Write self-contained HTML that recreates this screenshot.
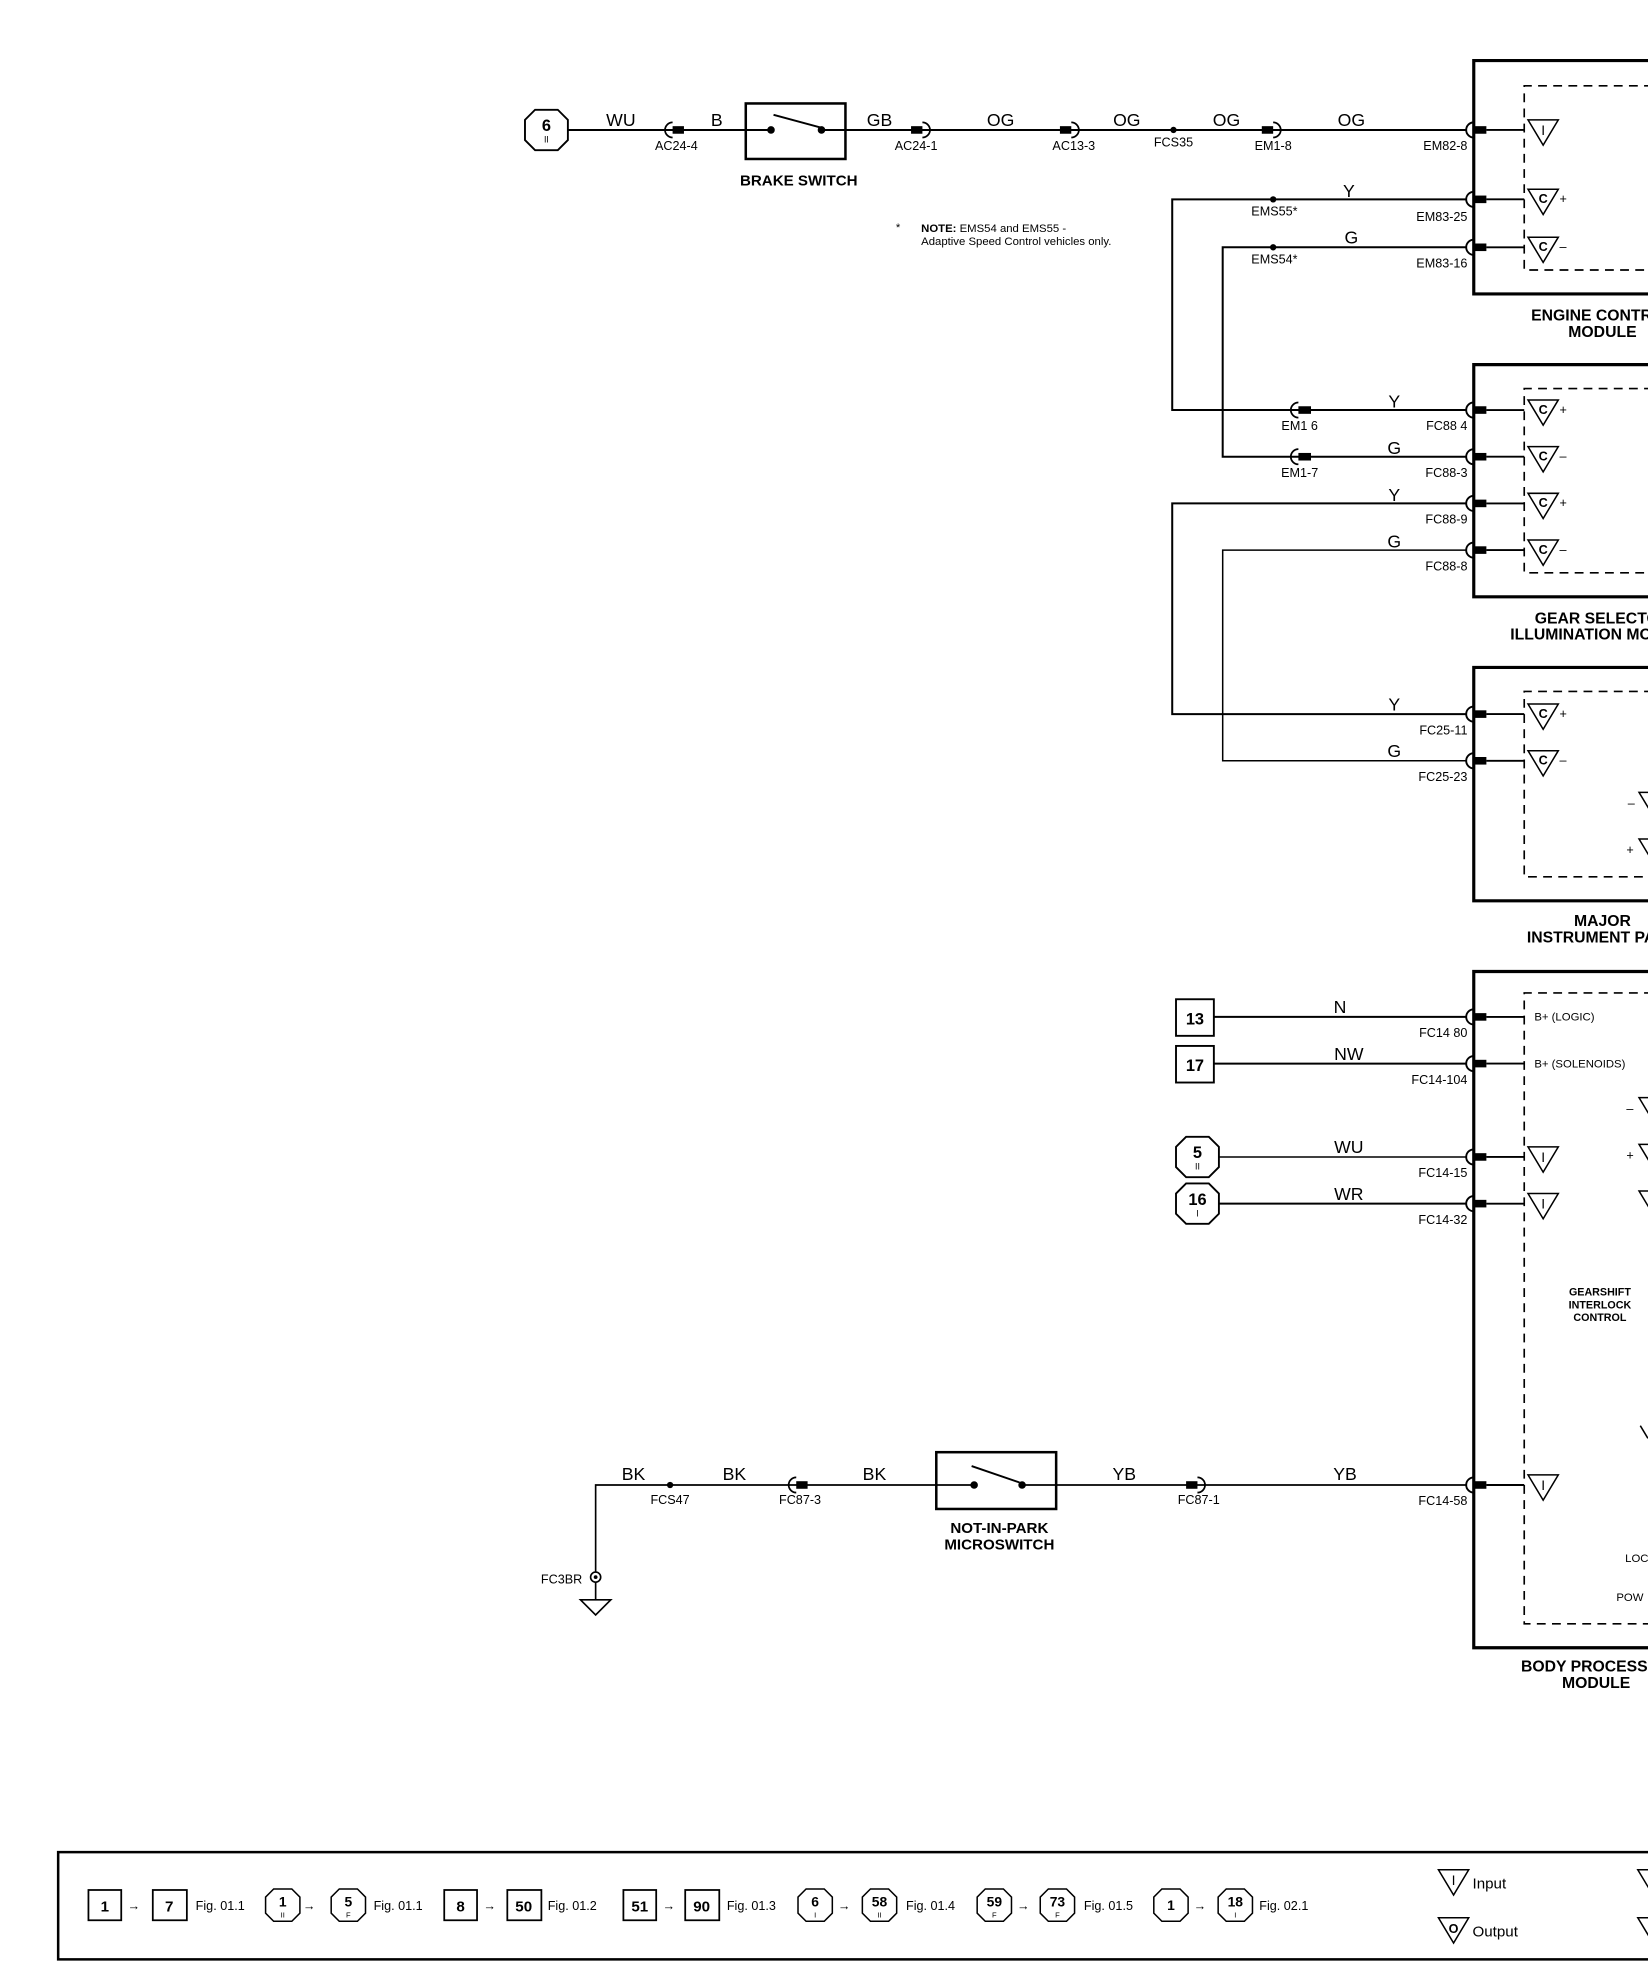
<!DOCTYPE html>
<html><head><meta charset="utf-8">
<style>
html,body{margin:0;padding:0;background:#fff;}
svg{display:block;}
text{font-family:"Liberation Sans",Arial,sans-serif;fill:#000;}
.w{font-size:14px;}
.p{font-size:10px;}
.b{font-weight:bold;}
</style></head>
<body>
<svg width="1648" height="1972" viewBox="0 0 1306 1563" xmlns="http://www.w3.org/2000/svg">
<defs>
<g id="tri"><polygon points="0,0 24,0 12,20" fill="none" stroke="#000" stroke-width="1.2"/></g>
<g id="oct"><polygon points="-9,-16 9,-16 17,-8 17,8 9,16 -9,16 -17,8 -17,-8" fill="#fff" stroke="#000" stroke-width="1.5"/></g>
<g id="pin"><path d="M1168,-6 A6,6 0 0 0 1168,6" fill="none" stroke="#000" stroke-width="1.5"/><rect x="1168" y="-3" width="10" height="6" fill="#000"/><line x1="1178" y1="0" x2="1208" y2="0" stroke="#000" stroke-width="1.5"/></g>
</defs>

<g stroke="#000" fill="none">
<!-- module boxes -->
<path d="M1310,48 H1168 V233 H1310" stroke-width="2.5"/>
<path d="M1310,68 H1208 V214 H1310" stroke-width="1.3" stroke-dasharray="7,5"/>
<path d="M1310,289 H1168 V473 H1310" stroke-width="2.5"/>
<path d="M1310,308 H1208 V454 H1310" stroke-width="1.3" stroke-dasharray="7,5"/>
<path d="M1310,529 H1168 V714 H1310" stroke-width="2.5"/>
<path d="M1310,548 H1208 V695 H1310" stroke-width="1.3" stroke-dasharray="7,5"/>
<path d="M1310,770 H1168 V1306 H1310" stroke-width="2.5"/>
<path d="M1310,787 H1208 V1287 H1310" stroke-width="1.3" stroke-dasharray="7,5"/>

<!-- wires -->
<line x1="450" y1="103" x2="1162" y2="103" stroke-width="1.6"/>
<path d="M1162,158 H929 V325 H1162" stroke-width="1.6"/>
<path d="M1162,196 H969 V362 H1162" stroke-width="1.6"/>
<path d="M1162,399 H929 V566 H1162" stroke-width="1.6"/>
<path d="M1162,436 H969 V603 H1162" stroke-width="1.2"/>
<line x1="962" y1="806" x2="1162" y2="806" stroke-width="1.6"/>
<line x1="962" y1="843" x2="1162" y2="843" stroke-width="1.6"/>
<line x1="966" y1="917" x2="1162" y2="917" stroke-width="1.2"/>
<line x1="966" y1="954" x2="1162" y2="954" stroke-width="1.6"/>
<path d="M1162,1177 H472 V1268" stroke-width="1.3"/>
</g>

<!-- module pins -->
<use href="#pin" y="103"/><use href="#pin" y="158"/><use href="#pin" y="196"/>
<use href="#pin" y="325"/><use href="#pin" y="362"/><use href="#pin" y="399"/><use href="#pin" y="436"/>
<use href="#pin" y="566"/><use href="#pin" y="603"/>
<use href="#pin" y="806"/><use href="#pin" y="843"/><use href="#pin" y="917"/><use href="#pin" y="954"/><use href="#pin" y="1177"/>

<!-- inline connectors -->
<g fill="#000" stroke="#000" stroke-width="1.4">
<path d="M533,97 A6,6 0 0 0 533,109" fill="none"/><rect x="533" y="100" width="9" height="6" stroke="none"/>
<rect x="722" y="100" width="9" height="6" stroke="none"/><path d="M731,97 A6,6 0 0 1 731,109" fill="none"/>
<rect x="840" y="100" width="9" height="6" stroke="none"/><path d="M849,97 A6,6 0 0 1 849,109" fill="none"/>
<rect x="1000" y="100" width="9" height="6" stroke="none"/><path d="M1009,97 A6,6 0 0 1 1009,109" fill="none"/>
<path d="M1029,319 A6,6 0 0 0 1029,331" fill="none"/><rect x="1029" y="322" width="10" height="6" stroke="none"/>
<path d="M1029,356 A6,6 0 0 0 1029,368" fill="none"/><rect x="1029" y="359" width="10" height="6" stroke="none"/>
<path d="M631,1171 A6,6 0 0 0 631,1183" fill="none"/><rect x="631" y="1174" width="9" height="6" stroke="none"/>
<rect x="940" y="1174" width="9" height="6" stroke="none"/><path d="M949,1171 A6,6 0 0 1 949,1183" fill="none"/>
<circle cx="930" cy="103" r="2.5" stroke="none"/>
<circle cx="1009" cy="158" r="2.5" stroke="none"/>
<circle cx="1009" cy="196" r="2.5" stroke="none"/>
<circle cx="531" cy="1177" r="2.5" stroke="none"/>
</g>

<!-- brake switch -->
<rect x="591" y="82" width="79" height="44" fill="#fff" stroke="#000" stroke-width="2"/>
<line x1="591" y1="103" x2="611" y2="103" stroke="#000" stroke-width="1.6"/>
<line x1="651" y1="103" x2="670" y2="103" stroke="#000" stroke-width="1.6"/>
<circle cx="611" cy="103" r="3" fill="#000"/><circle cx="651" cy="103" r="3" fill="#000"/>
<line x1="613" y1="91" x2="650" y2="101" stroke="#000" stroke-width="1.5"/>
<text x="633" y="147" class="b" font-size="12" text-anchor="middle">BRAKE SWITCH</text>

<!-- not in park switch -->
<rect x="742" y="1151" width="95" height="45" fill="#fff" stroke="#000" stroke-width="2"/>
<line x1="742" y1="1177" x2="772" y2="1177" stroke="#000" stroke-width="1.3"/>
<line x1="810" y1="1177" x2="837" y2="1177" stroke="#000" stroke-width="1.3"/>
<circle cx="772" cy="1177" r="3" fill="#000"/><circle cx="810" cy="1177" r="3" fill="#000"/>
<line x1="770" y1="1162" x2="808" y2="1175" stroke="#000" stroke-width="1.5"/>
<text x="792" y="1215" class="b" font-size="12" text-anchor="middle">NOT-IN-PARK</text>
<text x="792" y="1228" class="b" font-size="12" text-anchor="middle">MICROSWITCH</text>

<!-- ground -->
<circle cx="472" cy="1250" r="4" fill="#fff" stroke="#000" stroke-width="1.3"/>
<circle cx="472" cy="1250" r="1.5" fill="#000"/>
<polygon points="460,1268 484,1268 472,1280" fill="#fff" stroke="#000" stroke-width="1.3"/>
<text x="445" y="1255" class="p" text-anchor="middle">FC3BR</text>

<!-- octagons & boxes -->
<use href="#oct" x="433" y="103"/><text x="433" y="104" class="b" font-size="13" text-anchor="middle">6</text><text x="433" y="113" font-size="7" text-anchor="middle">II</text>
<use href="#oct" x="949" y="917"/><text x="949" y="918" class="b" font-size="13" text-anchor="middle">5</text><text x="949" y="927" font-size="7" text-anchor="middle">II</text>
<use href="#oct" x="949" y="954"/><text x="949" y="955" class="b" font-size="13" text-anchor="middle">16</text><text x="949" y="964" font-size="7" text-anchor="middle">I</text>
<rect x="932" y="792" width="30" height="29" fill="#fff" stroke="#000" stroke-width="1.5"/><text x="947" y="812" class="b" font-size="13" text-anchor="middle">13</text>
<rect x="932" y="829" width="30" height="29" fill="#fff" stroke="#000" stroke-width="1.5"/><text x="947" y="849" class="b" font-size="13" text-anchor="middle">17</text>

<!-- wire labels -->
<g class="w" text-anchor="middle">
<text x="492" y="100">WU</text><text x="568" y="100">B</text><text x="697" y="100">GB</text>
<text x="793" y="100">OG</text><text x="893" y="100">OG</text><text x="972" y="100">OG</text><text x="1071" y="100">OG</text>
<text x="1069" y="156">Y</text><text x="1071" y="193">G</text>
<text x="1105" y="323">Y</text><text x="1105" y="360">G</text><text x="1105" y="397">Y</text><text x="1105" y="434">G</text>
<text x="1105" y="563">Y</text><text x="1105" y="600">G</text>
<text x="1062" y="803">N</text><text x="1069" y="840">NW</text><text x="1069" y="914">WU</text><text x="1069" y="951">WR</text>
<text x="502" y="1173">BK</text><text x="582" y="1173">BK</text><text x="693" y="1173">BK</text>
<text x="891" y="1173">YB</text><text x="1066" y="1173">YB</text>
</g>

<!-- pin labels -->
<g class="p" text-anchor="middle">
<text x="536" y="119">AC24-4</text><text x="726" y="119">AC24-1</text><text x="851" y="119">AC13-3</text>
<text x="930" y="116">FCS35</text><text x="1009" y="119">EM1-8</text>
<text x="1010" y="171">EMS55*</text><text x="1010" y="209">EMS54*</text>
<text x="1030" y="341">EM1 6</text><text x="1030" y="378">EM1-7</text>
<text x="531" y="1192">FCS47</text><text x="634" y="1192">FC87-3</text><text x="950" y="1192">FC87-1</text>
</g>
<g class="p" text-anchor="end">
<text x="1163" y="119">EM82-8</text><text x="1163" y="175">EM83-25</text><text x="1163" y="212">EM83-16</text>
<text x="1163" y="341">FC88 4</text><text x="1163" y="378">FC88-3</text><text x="1163" y="415">FC88-9</text><text x="1163" y="452">FC88-8</text>
<text x="1163" y="582">FC25-11</text><text x="1163" y="619">FC25-23</text>
<text x="1163" y="822">FC14 80</text><text x="1163" y="859">FC14-104</text><text x="1163" y="933">FC14-15</text><text x="1163" y="970">FC14-32</text>
<text x="1163" y="1193">FC14-58</text>
</g>

<!-- note -->
<text x="710" y="183" font-size="9">*</text>
<text x="730" y="184" font-size="9"><tspan font-weight="bold">NOTE:</tspan> EMS54 and EMS55 -</text>
<text x="730" y="194" font-size="9">Adaptive Speed Control vehicles only.</text>

<!-- module internal triangles -->
<g>
<use href="#tri" x="1211" y="95"/><text x="1223" y="107" font-size="11" text-anchor="middle">I</text>
<use href="#tri" x="1211" y="150"/><text x="1223" y="161" class="b" font-size="10" text-anchor="middle">C</text><text x="1236" y="161" font-size="10">+</text>
<use href="#tri" x="1211" y="188"/><text x="1223" y="199" class="b" font-size="10" text-anchor="middle">C</text><text x="1236" y="199" font-size="10">–</text>
<use href="#tri" x="1211" y="317"/><text x="1223" y="328" class="b" font-size="10" text-anchor="middle">C</text><text x="1236" y="328" font-size="10">+</text>
<use href="#tri" x="1211" y="354"/><text x="1223" y="365" class="b" font-size="10" text-anchor="middle">C</text><text x="1236" y="365" font-size="10">–</text>
<use href="#tri" x="1211" y="391"/><text x="1223" y="402" class="b" font-size="10" text-anchor="middle">C</text><text x="1236" y="402" font-size="10">+</text>
<use href="#tri" x="1211" y="428"/><text x="1223" y="439" class="b" font-size="10" text-anchor="middle">C</text><text x="1236" y="439" font-size="10">–</text>
<use href="#tri" x="1211" y="558"/><text x="1223" y="569" class="b" font-size="10" text-anchor="middle">C</text><text x="1236" y="569" font-size="10">+</text>
<use href="#tri" x="1211" y="595"/><text x="1223" y="606" class="b" font-size="10" text-anchor="middle">C</text><text x="1236" y="606" font-size="10">–</text>
<use href="#tri" x="1299" y="628"/><text x="1290" y="640" font-size="10">–</text>
<use href="#tri" x="1299" y="665"/><text x="1289" y="677" font-size="10">+</text>
<use href="#tri" x="1211" y="909"/><text x="1223" y="921" font-size="11" text-anchor="middle">I</text>
<use href="#tri" x="1211" y="946"/><text x="1223" y="958" font-size="11" text-anchor="middle">I</text>
<use href="#tri" x="1211" y="1169"/><text x="1223" y="1181" font-size="11" text-anchor="middle">I</text>
<use href="#tri" x="1299" y="870"/><text x="1289" y="882" font-size="10">–</text>
<use href="#tri" x="1299" y="907"/><text x="1289" y="919" font-size="10">+</text>
<use href="#tri" x="1299" y="944"/>
<line x1="1300" y1="1130" x2="1306" y2="1140" stroke="#000" stroke-width="1.2"/>
</g>
<text x="1216" y="809" font-size="9">B+ (LOGIC)</text>
<text x="1216" y="846" font-size="9">B+ (SOLENOIDS)</text>
<text x="1268" y="1027" class="b" font-size="8.5" text-anchor="middle">GEARSHIFT</text>
<text x="1268" y="1037" class="b" font-size="8.5" text-anchor="middle">INTERLOCK</text>
<text x="1268" y="1047" class="b" font-size="8.5" text-anchor="middle">CONTROL</text>
<text x="1288" y="1238" font-size="9">LOC</text>
<text x="1281" y="1269" font-size="9">POW</text>

<!-- module titles -->
<g class="b" font-size="12.5" text-anchor="middle">
<text x="1270" y="254">ENGINE CONTROL</text><text x="1270" y="267">MODULE</text>
<text x="1270" y="494">GEAR SELECTOR</text><text x="1270" y="507">ILLUMINATION MODULE</text>
<text x="1270" y="734">MAJOR</text><text x="1270" y="747">INSTRUMENT PACK</text>
<text x="1265" y="1325">BODY PROCESSOR</text><text x="1265" y="1338">MODULE</text>
</g>
<rect x="1307" y="0" width="10" height="1563" fill="#fff"/>

<!-- legend -->
<path d="M1310,1468 H46 V1553 H1310" fill="none" stroke="#000" stroke-width="2"/>
<g font-size="10">
<g stroke="#000" fill="none" stroke-width="1.4">
<rect x="70" y="1498" width="26" height="24"/><rect x="121" y="1498" width="27" height="24"/>
<rect x="352" y="1498" width="26" height="24"/><rect x="402" y="1498" width="27" height="24"/>
<rect x="494" y="1498" width="26" height="24"/><rect x="543" y="1498" width="27" height="24"/>
</g>
<g class="b" font-size="12" text-anchor="middle">
<text x="83" y="1515">1</text><text x="134" y="1515">7</text><text x="365" y="1515">8</text><text x="415" y="1515">50</text><text x="507" y="1515">51</text><text x="556" y="1515">90</text>
</g>
<g>
<use href="#oct" transform="translate(224,1510) scale(0.8)"/><use href="#oct" transform="translate(276,1510) scale(0.8)"/>
<use href="#oct" transform="translate(646,1510) scale(0.8)"/><use href="#oct" transform="translate(697,1510) scale(0.8)"/>
<use href="#oct" transform="translate(788,1510) scale(0.8)"/><use href="#oct" transform="translate(838,1510) scale(0.8)"/>
<use href="#oct" transform="translate(928,1510) scale(0.8)"/><use href="#oct" transform="translate(979,1510) scale(0.8)"/>
</g>
<g class="b" font-size="11" text-anchor="middle">
<text x="224" y="1511">1</text><text x="276" y="1511">5</text><text x="646" y="1511">6</text><text x="697" y="1511">58</text>
<text x="788" y="1511">59</text><text x="838" y="1511">73</text><text x="928" y="1514">1</text><text x="979" y="1511">18</text>
</g>
<g font-size="6" text-anchor="middle">
<text x="224" y="1520">II</text><text x="276" y="1520">F</text><text x="646" y="1520">I</text><text x="697" y="1520">II</text>
<text x="788" y="1520">F</text><text x="838" y="1520">F</text><text x="979" y="1520">I</text>
</g>
<g font-size="10">
<text x="101" y="1514">→</text><text x="240" y="1514">→</text><text x="383" y="1514">→</text><text x="525" y="1514">→</text>
<text x="664" y="1514">→</text><text x="806" y="1514">→</text><text x="946" y="1514">→</text>
<text x="155" y="1514">Fig. 01.1</text><text x="296" y="1514">Fig. 01.1</text><text x="434" y="1514">Fig. 01.2</text>
<text x="576" y="1514">Fig. 01.3</text><text x="718" y="1514">Fig. 01.4</text><text x="859" y="1514">Fig. 01.5</text><text x="998" y="1514">Fig. 02.1</text>
</g>
<use href="#tri" x="1140" y="1482"/><text x="1152" y="1494" font-size="11" text-anchor="middle">I</text><text x="1167" y="1497" font-size="12">Input</text>
<use href="#tri" x="1140" y="1520"/><text x="1152" y="1532" class="b" font-size="10" text-anchor="middle">O</text><text x="1167" y="1535" font-size="12">Output</text>
<use href="#tri" x="1298" y="1482"/><use href="#tri" x="1298" y="1520"/>
</g>
<rect x="1307" y="1460" width="10" height="100" fill="#fff"/>
</svg>
</body></html>
